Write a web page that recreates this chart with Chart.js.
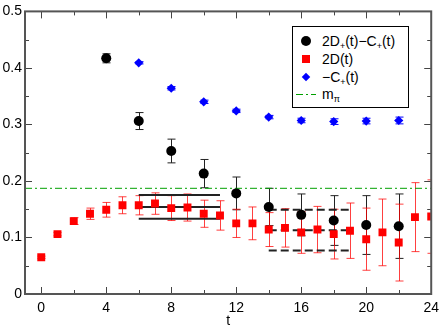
<!DOCTYPE html>
<html>
<head>
<meta charset="utf-8">
<script src="https://cdn.jsdelivr.net/npm/chart.js@4.4.1/dist/chart.umd.min.js"></script>
<style>
  body { margin: 0; background: #fff; }
  #wrap { position: relative; width: 445px; height: 327px; }
  #legend {
    position: absolute; left: 292px; top: 26px; width: 115px; height: 80px;
    border: 1px solid #000; background: #fff;
    font-family: "Liberation Sans", Arial, sans-serif; font-size: 14px; color: #000;
  }
  .row { position: absolute; left: 0; width: 100%; height: 16px; }
  .sym { position: absolute; }
  .lbl { position: absolute; left: 29px; top: 0; line-height: 16px; white-space: nowrap; }
  .lbl sub { font-size: 9px; vertical-align: -3px; line-height: 0; }
</style>
</head>
<body>
<div id="wrap">
  <canvas id="chart" width="445" height="327"></canvas>
  <div id="legend"></div>
</div>
<script>
// data
const tBlack = [4, 6, 8, 10, 12, 14, 16, 18, 20, 22];
const blackVals = [0.417, 0.306, 0.253, 0.213, 0.178, 0.154, 0.140, 0.130, 0.122, 0.120];
const blackErr = [0.008, 0.015, 0.021, 0.025, 0.029, 0.033, 0.037, 0.044, 0.052, 0.057];

const tRed = [0, 1, 2, 3, 4, 5, 6, 7, 8, 9, 10, 11, 12, 13, 14, 15, 16, 17, 18, 19, 20, 21, 22, 23, 24];
const redVals = [0.065, 0.106, 0.129, 0.142, 0.149, 0.157, 0.157, 0.160, 0.152, 0.153, 0.142, 0.139, 0.125,
                 0.125, 0.114, 0.117, 0.109, 0.114, 0.106, 0.112, 0.097, 0.109, 0.091, 0.136, 0.137];
const redErr = [0.002, 0.003, 0.006, 0.010, 0.013, 0.015, 0.017, 0.019, 0.022, 0.024, 0.024, 0.026, 0.025,
                0.029, 0.030, 0.034, 0.037, 0.041, 0.044, 0.049, 0.055, 0.059, 0.068, 0.061, 0.065];

const tBlue = [6, 8, 10, 12, 14, 16, 18, 20, 22];
const blueVals = [0.409, 0.364, 0.340, 0.324, 0.313, 0.307, 0.305, 0.306, 0.307];
const blueErr = [0.002, 0.003, 0.003, 0.003, 0.003, 0.004, 0.005, 0.005, 0.006];

// plateau fits: [tStart, tEnd], value, error
const fit1Range = [6, 11];
const fit1Val = 0.154;
const fit1Err = 0.021;
const fit2Range = [14, 19];
const fit2Val = 0.113;
const fit2Err = 0.036;

const mPi = 0.187;

const xTicks = [0, 4, 8, 12, 16, 20, 24];
const xMinor = [2, 6, 10, 14, 18, 22];
const yTicks = [0, 0.1, 0.2, 0.3, 0.4, 0.5];
const yMinor = [0.05, 0.15, 0.25, 0.35, 0.45];

const pts = (xs, ys) => xs.map((x, i) => ({ x: x, y: ys[i] }));
const seg = (r, v) => [{ x: r[0], y: v }, { x: r[1], y: v }];

// 🛠️ vertical error bars, clipped to the plot
const errorBars = {
  id: 'errorBars',
  beforeDatasetsDraw(chart) {
    const { ctx, chartArea: a, scales: { y } } = chart;
    ctx.save();
    ctx.beginPath();
    ctx.rect(a.left, a.top, a.right - a.left, a.bottom - a.top);
    ctx.clip();
    chart.data.datasets.forEach((ds, i) => {
      if (!ds.errors) return;
      const meta = chart.getDatasetMeta(i);
      ctx.strokeStyle = ds.errorColor;
      ctx.lineWidth = 1;
      meta.data.forEach((pt, j) => {
        const v = ds.data[j].y, e = ds.errors[j];
        const top = y.getPixelForValue(v + e);
        const bot = y.getPixelForValue(v - e);
        const px = Math.round(pt.x) + 0.5;
        ctx.beginPath();
        ctx.moveTo(px, top); ctx.lineTo(px, bot);
        ctx.moveTo(px - 4, top); ctx.lineTo(px + 4, top);
        ctx.moveTo(px - 4, bot); ctx.lineTo(px + 4, bot);
        ctx.stroke();
      });
    });
    ctx.restore();
  }
};

// inward ticks on all four sides + frame
const frameTicks = {
  id: 'frameTicks',
  afterDraw(chart) {
    const { ctx, chartArea: a, scales: { x, y } } = chart;
    ctx.save();
    ctx.strokeStyle = '#444';
    ctx.lineWidth = 1;
    const xt = (vals, len) => vals.forEach(v => {
      const px = Math.round(x.getPixelForValue(v)) + 0.5;
      ctx.beginPath();
      ctx.moveTo(px, a.bottom); ctx.lineTo(px, a.bottom - len);
      ctx.moveTo(px, a.top); ctx.lineTo(px, a.top + len);
      ctx.stroke();
    });
    const yt = (vals, len) => vals.forEach(v => {
      const py = Math.round(y.getPixelForValue(v)) + 0.5;
      ctx.beginPath();
      ctx.moveTo(a.left, py); ctx.lineTo(a.left + len, py);
      ctx.moveTo(a.right, py); ctx.lineTo(a.right - len, py);
      ctx.stroke();
    });
    xt(xTicks, 7); xt(xMinor, 4);
    yt(yTicks, 7); yt(yMinor, 4);
    ctx.lineWidth = 2;
    ctx.strokeStyle = '#555';
    ctx.strokeRect(a.left, a.top, a.right - a.left, a.bottom - a.top);
    ctx.restore();
  }
};

const fitLine = (data, dash) => ({
  type: 'line', data: data, showLine: true, pointRadius: 0,
  borderColor: '#222', borderWidth: 2, borderDash: dash, fill: false
});

new Chart(document.getElementById('chart'), {
  type: 'scatter',
  data: {
    datasets: [
      { label: '2D+(t)-C+(t)', data: pts(tBlack, blackVals), errors: blackErr, errorColor: '#222',
        pointStyle: 'circle', pointRadius: 5, backgroundColor: '#000', borderColor: '#000', borderWidth: 0 },
      { label: '-C+(t)', data: pts(tBlue, blueVals), errors: blueErr, errorColor: '#00f',
        pointStyle: 'rectRot', pointRadius: 4.6, backgroundColor: '#00f', borderColor: '#00f', borderWidth: 0 },
      { label: '2D(t)', data: pts(tRed, redVals), errors: redErr, errorColor: 'rgba(255,0,0,0.75)',
        pointStyle: 'rect', pointRadius: 5.6, backgroundColor: '#f00', borderColor: '#f00', borderWidth: 0 },
      fitLine(seg(fit1Range, fit1Val + fit1Err), []),
      fitLine(seg(fit1Range, fit1Val), []),
      fitLine(seg(fit1Range, fit1Val - fit1Err), []),
      fitLine(seg(fit2Range, fit2Val + fit2Err), [8, 4]),
      fitLine(seg(fit2Range, fit2Val), [8, 4]),
      fitLine(seg(fit2Range, fit2Val - fit2Err), [8, 4]),
      { label: 'm_pi', type: 'line', data: seg([-1, 24], mPi), showLine: true, pointRadius: 0,
        borderColor: '#00a000', borderWidth: 1, borderDash: [7, 3, 2, 3] }
    ]
  },
  options: {
    responsive: false,
    animation: false,
    layout: { padding: { top: 7, right: 8, left: 0, bottom: 0 } },
    plugins: { legend: { display: false }, tooltip: { enabled: false } },
    scales: {
      x: {
        type: 'linear', min: -1, max: 24,
        afterBuildTicks: s => { s.ticks = xTicks.map(v => ({ value: v })); },
        afterFit: s => { s.height = 33; },
        grid: { display: false, drawTicks: false },
        border: { display: false },
        ticks: { padding: 6, color: '#000', font: { family: 'Liberation Sans', size: 14 } },
        title: { display: true, text: 't', color: '#000', padding: { top: 0, bottom: -3 },
                 font: { family: 'Liberation Sans', size: 14 } }
      },
      y: {
        type: 'linear', min: 0, max: 0.5,
        afterBuildTicks: s => { s.ticks = yTicks.map(v => ({ value: v })); },
        afterFit: s => { s.width = 25; },
        grid: { display: false, drawTicks: false },
        border: { display: false },
        ticks: { padding: 3, color: '#000', font: { family: 'Liberation Sans', size: 14 },
                 callback: v => v === 0 ? '0' : v.toFixed(1) }
      }
    }
  },
  plugins: [errorBars, frameTicks]
});

// legend with subscripts, as html text
const legendRows = [
  { top: 6, sym: '<div class="sym" style="left:8px;top:3px;width:10px;height:10px;border-radius:50%;background:#000"></div>',
    html: '2D<sub>+</sub>(t)\u2212C<sub>+</sub>(t)' },
  { top: 24, sym: '<div class="sym" style="left:9px;top:4px;width:8px;height:8px;background:#f00"></div>',
    html: '2D(t)' },
  { top: 42, sym: '<div class="sym" style="left:10px;top:5px;width:6px;height:6px;background:#00f;transform:rotate(45deg)"></div>',
    html: '\u2212C<sub>+</sub>(t)' },
  { top: 59, sym: '<svg class="sym" style="left:3px;top:7px" width="20" height="3"><line x1="0" y1="1.5" x2="20" y2="1.5" stroke="#00a000" stroke-width="1" stroke-dasharray="7,3,2,3"/></svg>',
    html: 'm<sub>\u03c0</sub>' }
];
const legendEl = document.getElementById('legend');
legendRows.forEach(r => {
  const row = document.createElement('div');
  row.className = 'row';
  row.style.top = r.top + 'px';
  row.innerHTML = r.sym + '<div class="lbl">' + r.html + '</div>';
  legendEl.appendChild(row);
});
</script>
</body>
</html>
